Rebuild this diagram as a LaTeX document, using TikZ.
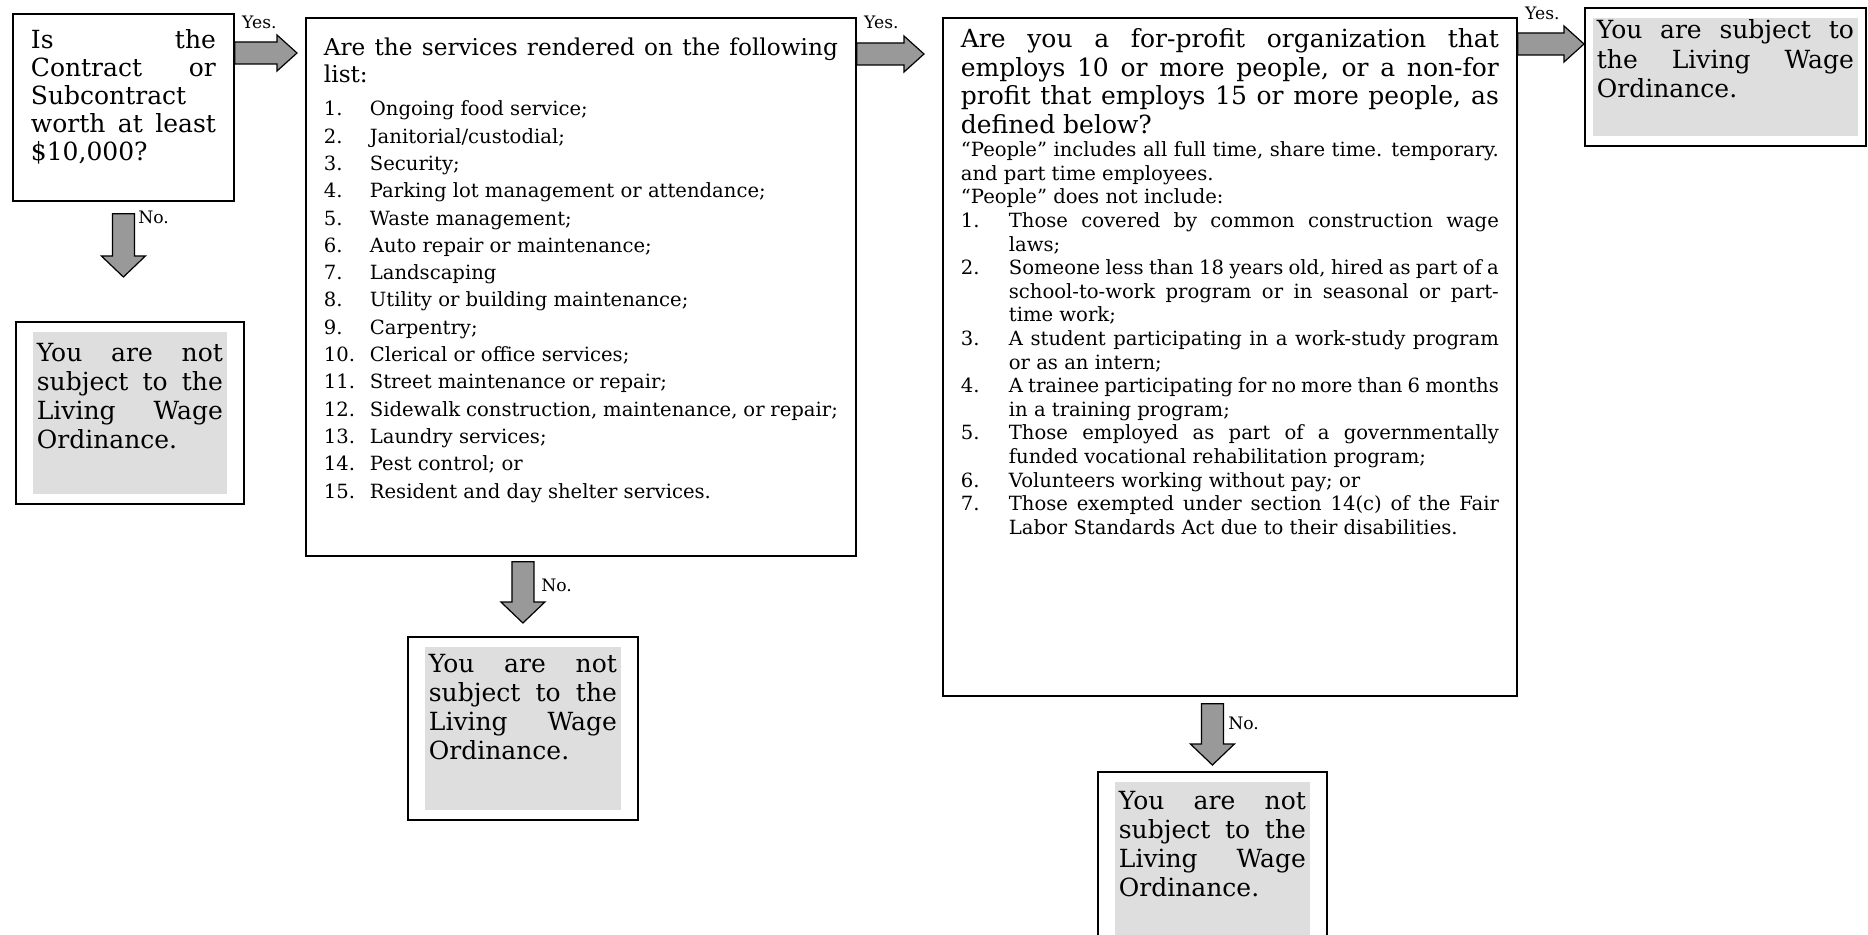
\documentclass[tikz,border=0pt]{standalone}
\usepackage{fontspec}
\setmainfont{DejaVu Serif}
\usetikzlibrary{calc}

\newcommand{\bigtext}{\fontsize{12.5}{14}\selectfont}
\newcommand{\restext}{\fontsize{12.5}{14.6}\selectfont}
\newcommand{\smalltext}[1]{\fontsize{9.8}{#1}\selectfont}
\newcommand{\inbox}[3]{\parbox[c][#2][t]{#1}{\sloppy\hyphenpenalty=10000 #3}}
\newlength{\numwd}
\newcommand{\itm}[1]{\par\noindent\hangindent=\numwd\hangafter=1\makebox[\numwd][l]{#1}\ignorespaces}

\tikzset{
  qbox/.style={draw, line width=0.9pt, anchor=north west, inner xsep=9pt, inner ysep=8pt},
  result/.style={draw, line width=0.9pt, anchor=north west, inner xsep=10.5pt, inner ysep=8.5pt,
    path picture={\fill[black!13] ([shift={(#1,-5pt)}]path picture bounding box.north west)
      rectangle ([shift={(-#1,5pt)}]path picture bounding box.south east);}},
  result/.default=8.5pt,
  lbl/.style={font=\fontsize{8.6}{10}\selectfont, inner sep=0pt},
  yesarrow/.style={draw, line width=0.6pt, fill=black!40, to path={
    let \p1=(\tikztostart), \p2=(\tikztotarget) in
    (\x1,\y1+5.5pt) -- (\x2-10pt,\y1+5.5pt) -- (\x2-10pt,\y1+9pt) -- (\x2,\y1)
    -- (\x2-10pt,\y1-9pt) -- (\x2-10pt,\y1-5.5pt) -- (\x1,\y1-5.5pt) -- cycle}},
  noarrow/.style={draw, line width=0.6pt, fill=black!40, to path={
    let \p1=(\tikztostart), \p2=(\tikztotarget) in
    (\x1-5.5pt,\y1) -- (\x1-5.5pt,\y2+10.5pt) -- (\x1-11pt,\y2+10.5pt) -- (\x1,\y2)
    -- (\x1+11pt,\y2+10.5pt) -- (\x1+5.5pt,\y2+10.5pt) -- (\x1+5.5pt,\y1) -- cycle}}
}

\begin{document}
\begin{tikzpicture}[x=0.5pt, y=-0.5pt]
    \useasboundingbox (0,0) rectangle (1868,935);

    \node[qbox] (q1) at (12,13) {\inbox{92.5pt}{77.5pt}{\bigtext
        Is the \linebreak Contract or \linebreak Subcontract \linebreak worth at least \linebreak \$10,000?}};

    \node[qbox, inner ysep=10pt] (q2) at (305,17) {\inbox{257pt}{249pt}{\fontsize{11.6}{13.5}\selectfont
        Are the services rendered on the following \linebreak list:\par
        \vspace{3pt}%
        \smalltext{13.65pt}\setlength{\numwd}{23pt}%
        \itm{1.}Ongoing food service;
        \itm{2.}Janitorial/custodial;
        \itm{3.}Security;
        \itm{4.}Parking lot management or attendance;
        \itm{5.}Waste management;
        \itm{6.}Auto repair or maintenance;
        \itm{7.}Landscaping
        \itm{8.}Utility or building maintenance;
        \itm{9.}Carpentry;
        \itm{10.}Clerical or office services;
        \itm{11.}Street maintenance or repair;
        \itm{12.}Sidewalk construction, maintenance, or repair;
        \itm{13.}Laundry services;
        \itm{14.}Pest control; or
        \itm{15.}Resident and day shelter services.}};

    \node[qbox, inner ysep=5.5pt] (q3) at (942,17) {\inbox{269pt}{328pt}{\fontsize{12.5}{14.2}\selectfont
        Are you a for-profit organization that \linebreak employs 10 or more people, or a non-for
        \linebreak profit that employs 15 or more people, as \linebreak defined below?\par
        \smalltext{11.8pt}%
        “People” includes all full time, share time. temporary. \linebreak and part time employees.\par
        “People” does not include:
        \setlength{\numwd}{24pt}%
        \itm{1.}Those covered by common construction wage \linebreak laws;
        \itm{2.}Someone less than 18 years old, hired as part of a \linebreak school-to-work program
        or in seasonal or part-\linebreak time work;
        \itm{3.}A student participating in a work-study program \linebreak or as an intern;
        \itm{4.}A trainee participating for no more than 6 months \linebreak in a training program;
        \itm{5.}Those employed as part of a governmentally \linebreak funded vocational rehabilitation program;
        \itm{6.}Volunteers working without pay; or
        \itm{7.}Those exempted under section 14(c) of the Fair \linebreak Labor Standards Act due to their disabilities.}};

    \node[result, inner ysep=10.5pt] (r1) at (15,321) {\inbox{93pt}{70pt}{\restext
        You are not \linebreak subject to the \linebreak Living Wage \linebreak Ordinance.}};
    \node[result] (r2) at (407,636) {\inbox{94pt}{74.5pt}{\restext
        You are not \linebreak subject to the \linebreak Living Wage \linebreak Ordinance.}};
    \node[result, inner ysep=9.5pt] (r3) at (1097,771) {\inbox{93.5pt}{72.5pt}{\restext
        You are not \linebreak subject to the \linebreak Living Wage \linebreak Ordinance.}};
    \node[result=4pt, inner xsep=6pt, inner ysep=6pt] (ry) at (1584,7) {\inbox{128.5pt}{57pt}{\restext
        You are subject to \linebreak the Living Wage \linebreak Ordinance.}};

    \draw[yesarrow] ([yshift=-20pt]q1.north east) to ([xshift=-4pt]q2.west);
    \draw[yesarrow] ([yshift=-18.5pt]q2.north east) to ([xshift=-9pt]q3.west);
    \draw[yesarrow] ([yshift=-13.5pt]q3.north east) to (ry.west);
    \draw[noarrow] ([yshift=-6pt]q1.south) to ([yshift=22pt]r1.north);
    \draw[noarrow] ([yshift=-2.5pt]r2.north |- q2.south) to ([yshift=6.5pt]r2.north);
    \draw[noarrow] ([yshift=-3.5pt]r3.north |- q3.south) to ([yshift=3pt]r3.north);

    \node[lbl, anchor=base west] (yes1) at ([xshift=3.5pt,yshift=-8pt]q1.north east) {Yes.};
    \node[lbl, anchor=base west] (yes2) at ([xshift=3.5pt,yshift=-6pt]q2.north east) {Yes.};
    \node[lbl, anchor=base west] (yes3) at ([xshift=3.5pt,yshift=-1.5pt]q3.north east) {Yes.};
    \node[lbl, anchor=base west] (no1) at ([xshift=7.25pt,yshift=-11pt]q1.south) {No.};
    \node[lbl, anchor=base west] (no2) at ([xshift=9pt,yshift=-17.5pt]r2.north |- q2.south) {No.};
    \node[lbl, anchor=base west] (no3) at ([xshift=7.75pt,yshift=-16.5pt]r3.north |- q3.south) {No.};
\end{tikzpicture}
\end{document}
